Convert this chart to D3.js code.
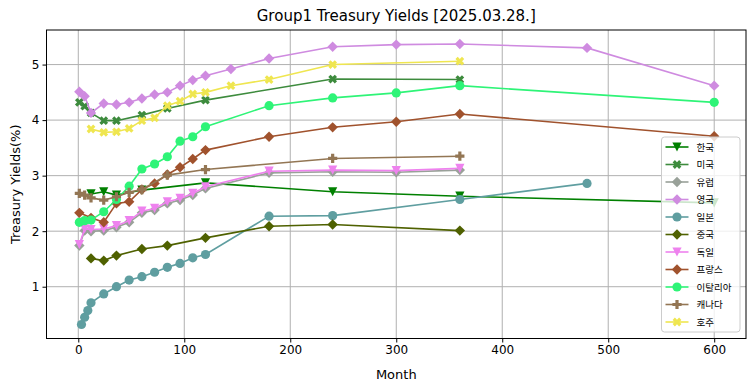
<!DOCTYPE html>
<html>
<head>
<meta charset="utf-8">
<script src="https://cdn.jsdelivr.net/npm/d3@7"></script>
<style>
  body { margin: 0; background: #fff; }
  text { font-family: "DejaVu Sans", "Noto Sans CJK KR", sans-serif; }
</style>
</head>
<body>
<script>
// maturities in months and yields in %
var krMonths = [12, 24, 36, 60, 120, 240, 360, 600],
    krYields = [2.67, 2.71, 2.65, 2.74, 2.87, 2.71, 2.63, 2.51];
var usMonths = [1, 6, 12, 24, 36, 60, 84, 120, 240, 360],
    usYields = [4.32, 4.25, 4.13, 3.99, 3.99, 4.09, 4.21, 4.36, 4.74, 4.73];
var euMonths = [1, 6, 12, 24, 36, 48, 60, 72, 84, 96, 108, 120, 180, 240, 300, 360],
    euYields = [1.74, 2.01, 2.00, 2.01, 2.07, 2.16, 2.33, 2.38, 2.50, 2.56, 2.65, 2.77, 3.05, 3.07, 3.06, 3.10];
var ukMonths = [1, 6, 12, 24, 36, 48, 60, 72, 84, 96, 108, 120, 144, 180, 240, 300, 360, 480, 600],
    ukYields = [4.51, 4.43, 4.13, 4.30, 4.28, 4.32, 4.39, 4.46, 4.50, 4.62, 4.72, 4.80, 4.92, 5.11, 5.32, 5.36, 5.37, 5.30, 4.62];
var jpMonths = [3, 6, 9, 12, 24, 36, 48, 60, 72, 84, 96, 108, 120, 180, 240, 360, 480],
    jpYields = [0.32, 0.45, 0.57, 0.71, 0.87, 1.00, 1.12, 1.18, 1.26, 1.35, 1.42, 1.52, 1.58, 2.27, 2.28, 2.57, 2.86];
var cnMonths = [12, 24, 36, 60, 84, 120, 180, 240, 360],
    cnYields = [1.51, 1.47, 1.56, 1.68, 1.74, 1.88, 2.09, 2.12, 2.01];
var deMonths = [1, 6, 12, 24, 36, 48, 60, 72, 84, 96, 108, 120, 180, 240, 300, 360],
    deYields = [1.76, 2.04, 2.03, 2.04, 2.10, 2.19, 2.36, 2.41, 2.53, 2.59, 2.68, 2.80, 3.08, 3.10, 3.09, 3.13];
var frMonths = [1, 12, 24, 36, 48, 60, 72, 84, 96, 108, 120, 180, 240, 300, 360, 600],
    frYields = [2.33, 2.24, 2.16, 2.50, 2.53, 2.75, 2.86, 3.02, 3.15, 3.30, 3.46, 3.70, 3.87, 3.97, 4.11, 3.71];
var itMonths = [1, 6, 12, 24, 36, 48, 60, 72, 84, 96, 108, 120, 180, 240, 300, 360, 600],
    itYields = [2.16, 2.19, 2.20, 2.35, 2.57, 2.81, 3.12, 3.21, 3.34, 3.62, 3.70, 3.88, 4.26, 4.40, 4.49, 4.62, 4.32];
var caMonths = [1, 6, 12, 24, 36, 48, 60, 84, 120, 240, 360],
    caYields = [2.68, 2.65, 2.60, 2.56, 2.62, 2.70, 2.75, 3.01, 3.11, 3.31, 3.35];
var auMonths = [12, 24, 36, 48, 60, 72, 84, 96, 108, 120, 144, 180, 240, 360],
    auYields = [3.84, 3.78, 3.79, 3.85, 3.99, 4.04, 4.26, 4.34, 4.47, 4.50, 4.62, 4.73, 5.00, 5.06];

var names = ["한국", "미국", "유럽", "영국", "일본", "중국", "독일", "프랑스", "이탈리아", "캐나다", "호주"],
    colors = ["#008000", "#3d8b3d", "#99a199", "#cf8be0", "#5f9ea0", "#4f6100", "#ee82ee", "#a0522d", "#2ef477", "#937654", "#efe650"],
    markers = ["tri", "x", "diamond", "diamond", "circle", "diamond", "tri", "diamond", "circle", "plus", "x"],
    allMonths = [krMonths, usMonths, euMonths, ukMonths, jpMonths, cnMonths, deMonths, frMonths, itMonths, caMonths, auMonths],
    allYields = [krYields, usYields, euYields, ukYields, jpYields, cnYields, deYields, frYields, itYields, caYields, auYields];

var xTicks = [0, 100, 200, 300, 400, 500, 600],
    yTicks = [1, 2, 3, 4, 5];

var width = 755, height = 391,
    padL = 46.5, padR = 746, padT = 30, padB = 338.5;

var series = names.map(function(n, i) {
  return { name: n, color: colors[i], marker: markers[i],
           pts: allMonths[i].map(function(m, j) { return [m, allYields[i][j]]; }) };
});

// x spans 0..600 with 5% margins, y gets 5% margins around the data
var yExt = d3.extent(d3.merge(allYields)),
    yPad = (yExt[1] - yExt[0]) * 0.05;

var x = d3.scaleLinear().domain([-30, 630]).range([padL, padR]),
    y = d3.scaleLinear().domain([yExt[0] - yPad, yExt[1] + yPad]).range([padB, padT]);

var svg = d3.select("body").append("svg")
    .attr("width", width)
    .attr("height", height);

// grid
svg.append("g").selectAll("line").data(xTicks).enter().append("line")
    .attr("x1", function(d) { return x(d); }).attr("x2", function(d) { return x(d); })
    .attr("y1", padT).attr("y2", padB)
    .attr("stroke", "#b0b0b0").attr("stroke-width", 1);
svg.append("g").selectAll("line").data(yTicks).enter().append("line")
    .attr("y1", function(d) { return y(d); }).attr("y2", function(d) { return y(d); })
    .attr("x1", padL).attr("x2", padR)
    .attr("stroke", "#b0b0b0").attr("stroke-width", 1);

// marker shapes
function markerPath(type) {
  var r = 4.6, t = 1.6;
  if (type == "circle") return d3.symbol(d3.symbolCircle, Math.PI * r * r)();
  if (type == "diamond") { var s = 5.2; return "M0," + (-s) + "L" + s + ",0L0," + s + "L" + (-s) + ",0Z"; }
  if (type == "tri") return "M0," + r + "L" + (-r) + "," + (-r) + "L" + r + "," + (-r) + "Z";
  // plus shape, rotated for x
  return "M" + (-t) + "," + (-r) + "H" + t + "V" + (-t) + "H" + r + "V" + t + "H" + t + "V" + r +
         "H" + (-t) + "V" + t + "H" + (-r) + "V" + (-t) + "H" + (-t) + "Z";
}
function markerRot(type) { return type == "x" ? 45 : 0; }

var line = d3.line()
    .x(function(d) { return x(d[0]); })
    .y(function(d) { return y(d[1]); });

var plot = svg.append("g");
series.forEach(function(s) {
  var g = plot.append("g");
  g.append("path")
      .attr("d", line(s.pts))
      .attr("fill", "none")
      .attr("stroke", s.color)
      .attr("stroke-width", 1.6);
  g.selectAll("path.mk").data(s.pts).enter().append("path")
      .attr("class", "mk")
      .attr("d", markerPath(s.marker))
      .attr("fill", s.color)
      .attr("transform", function(d) {
        return "translate(" + x(d[0]) + "," + y(d[1]) + ")rotate(" + markerRot(s.marker) + ")";
      });
});

// axes
var xAxis = svg.append("g").attr("transform", "translate(0," + padB + ")")
    .call(d3.axisBottom(x).tickValues(xTicks).tickSize(4).tickPadding(3).tickSizeOuter(0));
var yAxis = svg.append("g").attr("transform", "translate(" + padL + ",0)")
    .call(d3.axisLeft(y).tickValues(yTicks).tickFormat(d3.format("d")).tickSize(4).tickPadding(3).tickSizeOuter(0));
[xAxis, yAxis].forEach(function(a) {
  a.select(".domain").remove();
  a.selectAll("text").attr("font-size", 12).attr("fill", "#000")
      .attr("font-family", "DejaVu Sans");
  a.selectAll("line").attr("stroke", "#000");
});

// frame
svg.append("rect")
    .attr("x", padL).attr("y", padT)
    .attr("width", padR - padL).attr("height", padB - padT)
    .attr("fill", "none").attr("stroke", "#000").attr("stroke-width", 1);

// titles
svg.append("text")
    .attr("x", (padL + padR) / 2).attr("y", 21)
    .attr("text-anchor", "middle").attr("font-size", 15)
    .text("Group1 Treasury Yields [2025.03.28.]");
svg.append("text")
    .attr("x", (padL + padR) / 2).attr("y", 379)
    .attr("text-anchor", "middle").attr("font-size", 13)
    .text("Month");
svg.append("text")
    .attr("transform", "translate(20," + ((padT + padB) / 2) + ")rotate(-90)")
    .attr("text-anchor", "middle").attr("font-size", 13)
    .text("Treasury Yields(%)");

// legend
var lg = svg.append("g").attr("transform", "translate(661.5,137)");
lg.append("rect")
    .attr("width", 78.5).attr("height", 195)
    .attr("rx", 3)
    .attr("fill", "#fff").attr("fill-opacity", 0.8)
    .attr("stroke", "#cccccc");
series.forEach(function(s, i) {
  var row = lg.append("g").attr("transform", "translate(0," + (10 + i * 17.5) + ")");
  row.append("line")
      .attr("x1", 4).attr("x2", 27)
      .attr("stroke", s.color).attr("stroke-width", 1.6);
  row.append("path")
      .attr("d", markerPath(s.marker))
      .attr("fill", s.color)
      .attr("transform", "translate(15.5,0)rotate(" + markerRot(s.marker) + ")");
  row.append("text")
      .attr("x", 35).attr("y", 3.5)
      .attr("font-size", 9.5)
      .attr("font-family", "Noto Sans CJK KR")
      .text(s.name);
});
</script>
</body>
</html>
